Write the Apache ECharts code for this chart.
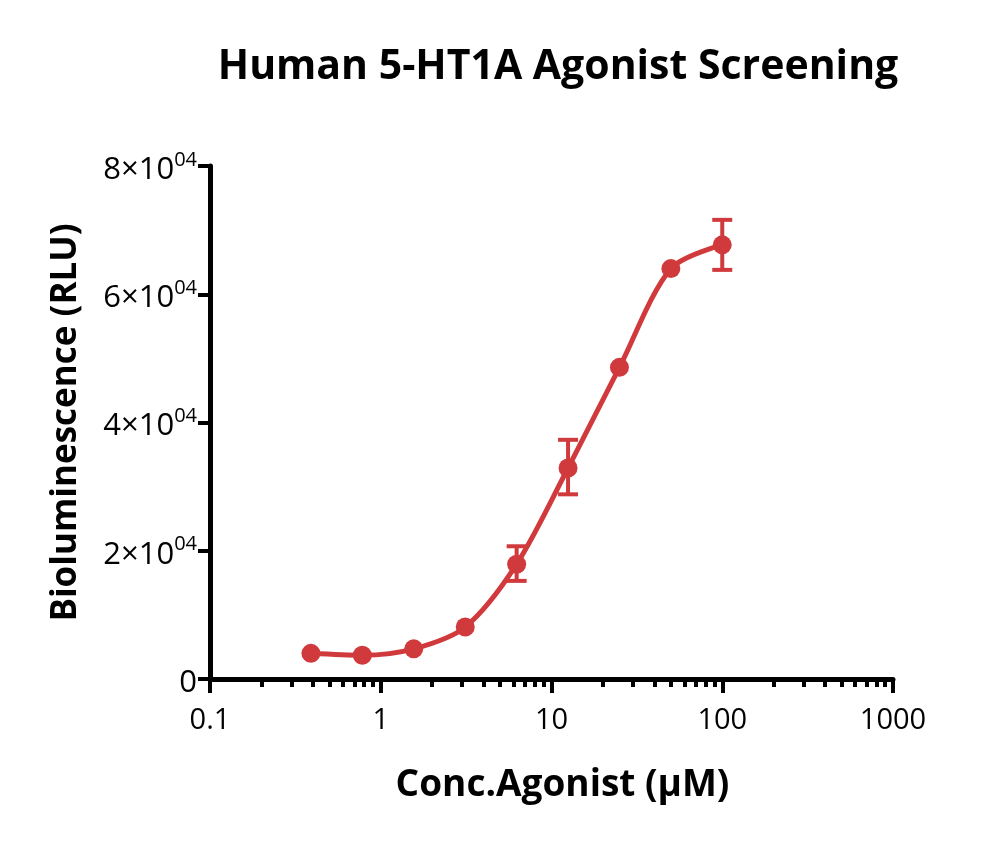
<!DOCTYPE html>
<html>
<head>
<meta charset="utf-8">
<script src="https://cdn.jsdelivr.net/npm/echarts@6/dist/echarts.min.js"></script>
<style>
  html, body { margin: 0; padding: 0; background: #fff; }
  #chart { width: 1000px; height: 843px; }
</style>
</head>
<body>
<div id="chart"></div>
<script>
// concentration (µM) and mean luminescence (RLU)
const conc = [0.39, 0.78, 1.56, 3.125, 6.25, 12.5, 25, 50, 100];
const rlu = [4000, 3700, 4700, 8100, 17900, 32900, 48600, 64000, 67700];
// error bars: [conc, low, high]
const errBars = [
  [6.25, 15300, 20700],
  [12.5, 28800, 37300],
  [100, 63800, 71600],
];
const yTicks = [0, 20000, 40000, 60000, 80000];
const xMinorTicks = [0.2, 0.3, 0.4, 0.5, 0.6, 0.7, 0.8, 0.9,
  2, 3, 4, 5, 6, 7, 8, 9,
  20, 30, 40, 50, 60, 70, 80, 90,
  200, 300, 400, 500, 600, 700, 800, 900];

const red = "#d13a3c";
const font = "Open Sans";

const myChart = echarts.init(document.getElementById("chart"));

const options = {
  animation: false,
  title: {
    text: "Human 5-HT1A Agonist Screening",
    left: 553,
    top: 42,
    textAlign: "center",
    textStyle: { fontFamily: font, fontSize: 41, fontWeight: "bold", color: "#000" },
  },
  grid: { left: 210, right: 107, top: 166, bottom: 164 },
  xAxis: [
    {
      type: "log",
      logBase: 10,
      min: 0.1,
      max: 1000,
      name: "Conc.Agonist (µM)",
      nameLocation: "middle",
      nameGap: 88,
      nameTextStyle: {
        fontFamily: font,
        fontSize: 37,
        fontWeight: "bold",
        color: "#000",
        padding: [0, 0, 0, 22],
      },
      axisLine: { lineStyle: { color: "#000", width: 5 } },
      axisTick: { length: 14, lineStyle: { color: "#000", width: 4 } },
      axisLabel: {
        fontFamily: font,
        fontSize: 29,
        color: "#000",
        margin: 27,
        formatter: (v) => String(v),
      },
      splitLine: { show: false },
    },
    {
      type: "log",
      logBase: 10,
      min: 0.1,
      max: 1000,
      position: "bottom",
      axisLine: { show: false },
      axisTick: { length: 8, customValues: xMinorTicks, lineStyle: { color: "#000", width: 4 } },
      axisLabel: { show: false },
      splitLine: { show: false },
    },
  ],
  yAxis: {
    type: "value",
    min: 0,
    max: 80000,
    interval: 20000,
    name: "Bioluminescence (RLU)",
    nameLocation: "middle",
    nameGap: 126,
    nameTextStyle: { fontFamily: font, fontSize: 35, fontWeight: "bold", color: "#000" },
    axisLine: { show: true, lineStyle: { color: "#000", width: 5 } },
    axisTick: { show: true, length: 12, lineStyle: { color: "#000", width: 4 } },
    axisLabel: {
      margin: 13,
      fontFamily: font,
      fontSize: 31,
      color: "#000",
      formatter: (v) => (v === 0 ? "{num|0}" : `{num|${v / 10000}×10}{sup|04}`),
      rich: {
        num: { fontFamily: font, fontSize: 31, lineHeight: 34, color: "#000", padding: [8, 0, 0, 0] },
        sup: { fontFamily: font, fontSize: 20, lineHeight: 34, color: "#000", padding: [0, 0, 12, 0] },
      },
    },
    splitLine: { show: false },
  },
  series: [
    {
      type: "line",
      data: conc.map((c, i) => [c, rlu[i]]),
      smooth: 0.3,
      symbol: "circle",
      symbolSize: 19,
      lineStyle: { color: red, width: 5 },
      itemStyle: { color: red },
      z: 3,
    },
    {
      type: "custom",
      data: errBars,
      clip: false,
      z: 2,
      renderItem: (params, api) => {
        const top = api.coord([api.value(0), api.value(2)]);
        const bot = api.coord([api.value(0), api.value(1)]);
        const hw = 10;
        const style = { stroke: red, lineWidth: 4 };
        return {
          type: "group",
          children: [
            { type: "line", shape: { x1: top[0], y1: top[1], x2: bot[0], y2: bot[1] }, style },
            { type: "line", shape: { x1: top[0] - hw, y1: top[1], x2: top[0] + hw, y2: top[1] }, style },
            { type: "line", shape: { x1: bot[0] - hw, y1: bot[1], x2: bot[0] + hw, y2: bot[1] }, style },
          ],
        };
      },
    },
  ],
};

myChart.setOption(options);
</script>
</body>
</html>
